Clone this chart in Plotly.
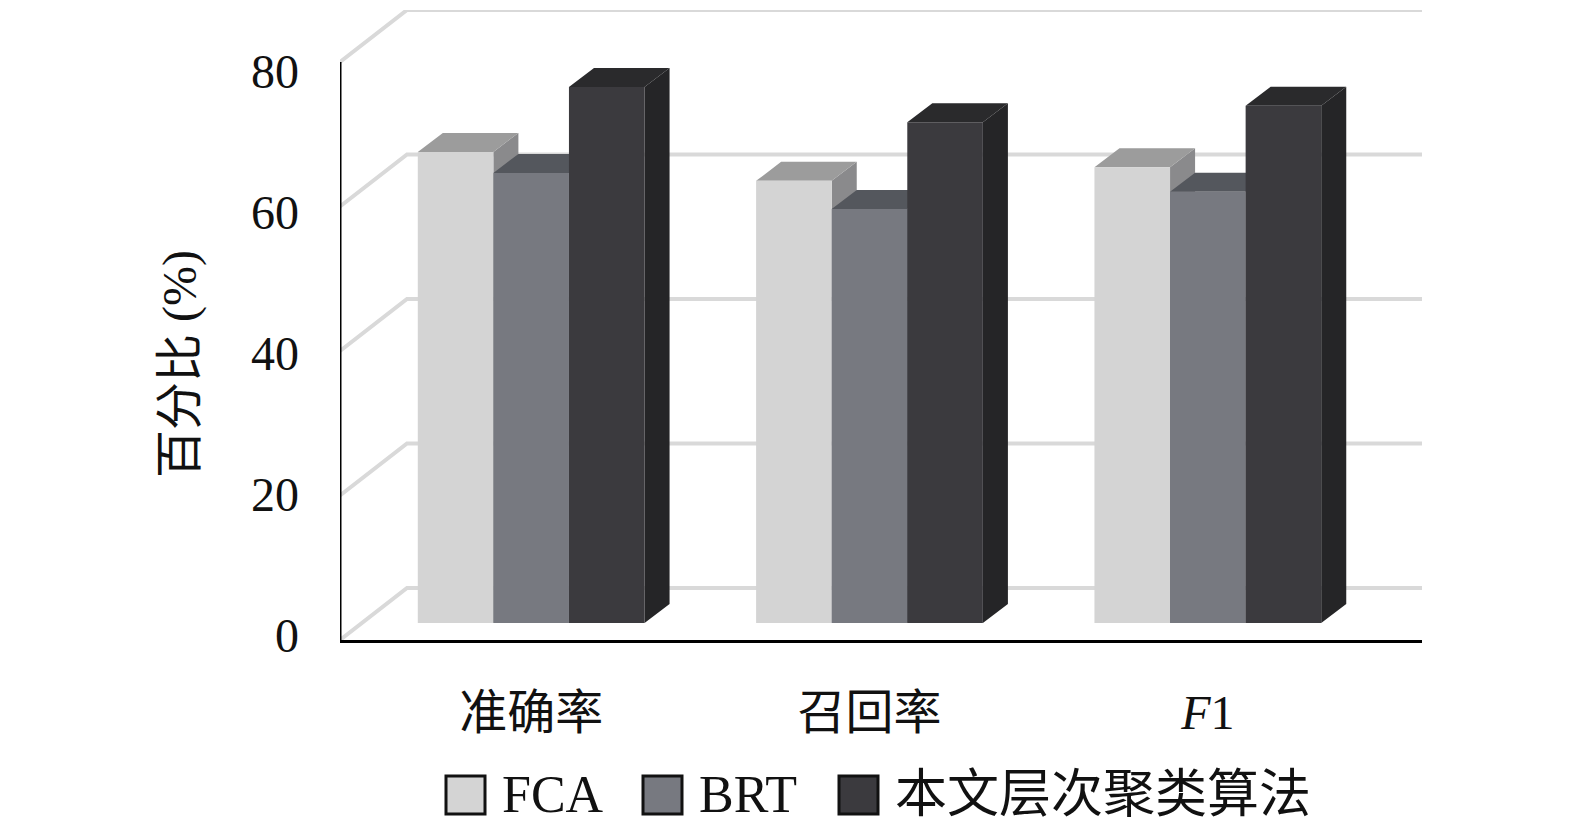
import plotly.graph_objects as go

# data
categories = ["准确率", "召回率", "<i>F</i>1"]
series_names = ["FCA", "BRT", "本文层次聚类算法"]
fca = [65.2, 61.2, 63.1]
brt = [62.3, 57.3, 59.7]
ours = [74.2, 69.3, 71.6]
yticks = [0, 20, 40, 60, 80]

series_values = [fca, brt, ours]
# front / top / side colours of each series
face_colors = [
    ("#d4d4d4", "#9c9c9c", "#8a8a8c"),
    ("#777980", "#54575d", "#46484d"),
    ("#3b3a3e", "#2a2a2c", "#252527"),
]

# page is drawn with an 8px body margin, so work in page pixels and shift
W, H = 1575, 830
OFF = 8
PX0, PX1 = 340, 1422     # plot area, page pixels
PY0, PY1 = 10, 640
FONT = "Liberation Serif, Times New Roman, Noto Sans CJK SC, serif"

# fake 3D: offsets in data units (x in category units, y in value units)
BACK_X, BACK_Y = 0.198, 7.2      # back wall
OX0, OY0 = 0.065, 2.35           # front plane of the bars
DX, DY = 0.074, 2.63             # bar depth
BAR_W = 0.2234
YMAX = 80

fig = go.Figure()

# walls: gridlines on the back wall and the left wall
for v in yticks:
    fig.add_trace(go.Scatter(
        x=[-0.5, -0.5 + BACK_X, 2.5 + BACK_X],
        y=[v, v + BACK_Y, v + BACK_Y],
        mode="lines", line=dict(color="#d9d9d9", width=4),
        hoverinfo="skip", showlegend=False))


def faces(vals, j):
    front_x, front_y, top_x, top_y, side_x, side_y = [], [], [], [], [], []
    for i, v in enumerate(vals):
        x0 = i + OX0 + (j - 1.5) * BAR_W
        x1 = x0 + BAR_W
        b = OY0
        t = OY0 + v
        front_x += [x0, x1, x1, x0, x0, None]
        front_y += [b, b, t, t, b, None]
        top_x += [x0, x1, x1 + DX, x0 + DX, x0, None]
        top_y += [t, t, t + DY, t + DY, t, None]
        side_x += [x1, x1 + DX, x1 + DX, x1, x1, None]
        side_y += [b, b + DY, t + DY, t, b, None]
    return (front_x, front_y), (top_x, top_y), (side_x, side_y)


for j, (name, vals) in enumerate(zip(series_names, series_values)):
    front, top, side = faces(vals, j)
    c_front, c_top, c_side = face_colors[j]
    for (xs, ys), col in [(side, c_side), (top, c_top), (front, c_front)]:
        fig.add_trace(go.Scatter(
            x=xs, y=ys, mode="lines", fill="toself", fillcolor=col,
            line=dict(width=0, color=col), name=name,
            hoverinfo="skip", showlegend=False))

# value axis line (front plane only)
fig.add_trace(go.Scatter(
    x=[-0.5, -0.5], y=[0, YMAX], mode="lines",
    line=dict(color="black", width=3), hoverinfo="skip", showlegend=False))


def px(x):
    return (x - PX0) / (PX1 - PX0)


def py(y):
    return (PY1 - y) / (PY1 - PY0)


# manual legend with big squares
leg_sq = [446, 643, 839]
for j, name in enumerate(series_names):
    fig.add_shape(type="rect", xref="paper", yref="paper",
                  x0=px(leg_sq[j]), x1=px(leg_sq[j] + 39),
                  y0=py(814), y1=py(776),
                  fillcolor=face_colors[j][0],
                  line=dict(color="#111111", width=3))
    fig.add_annotation(x=px(leg_sq[j] + 54), y=py(794), xref="paper", yref="paper",
                       text=name, showarrow=False, xanchor="left", yanchor="middle",
                       font=dict(family=FONT, size=52, color="#111111"))

# y title
fig.add_annotation(x=px(180), y=py(364), xref="paper", yref="paper",
                   text="百分比 (%)", textangle=-90, showarrow=False,
                   xanchor="center", yanchor="middle",
                   font=dict(family=FONT, size=48, color="#111111"))

fig_w, fig_h = W - OFF, H - OFF
fig.update_layout(
    width=fig_w, height=fig_h,
    margin=dict(l=PX0 - OFF, r=fig_w - (PX1 - OFF), t=PY0 - OFF, b=fig_h - (PY1 - OFF)),
    paper_bgcolor="white", plot_bgcolor="white",
    showlegend=False,
    xaxis=dict(
        range=[-0.5, 2.5 + BACK_X],
        tickvals=[i + OX0 for i in range(len(categories))],
        ticktext=categories,
        showgrid=False, zeroline=False,
        showline=True, linecolor="black", linewidth=3,
        ticks="", ticklabelstandoff=28,
        tickfont=dict(family=FONT, size=48, color="#111111"),
        fixedrange=True),
    yaxis=dict(
        range=[0, YMAX + BACK_Y],
        tickvals=[0.7 + 0.976 * v for v in yticks],
        ticktext=[str(v) for v in yticks],
        showgrid=False, zeroline=False, showline=False,
        ticks="", ticklabelstandoff=40,
        tickfont=dict(family=FONT, size=48, color="#111111"),
        fixedrange=True),
)

fig.write_html("out.html")
